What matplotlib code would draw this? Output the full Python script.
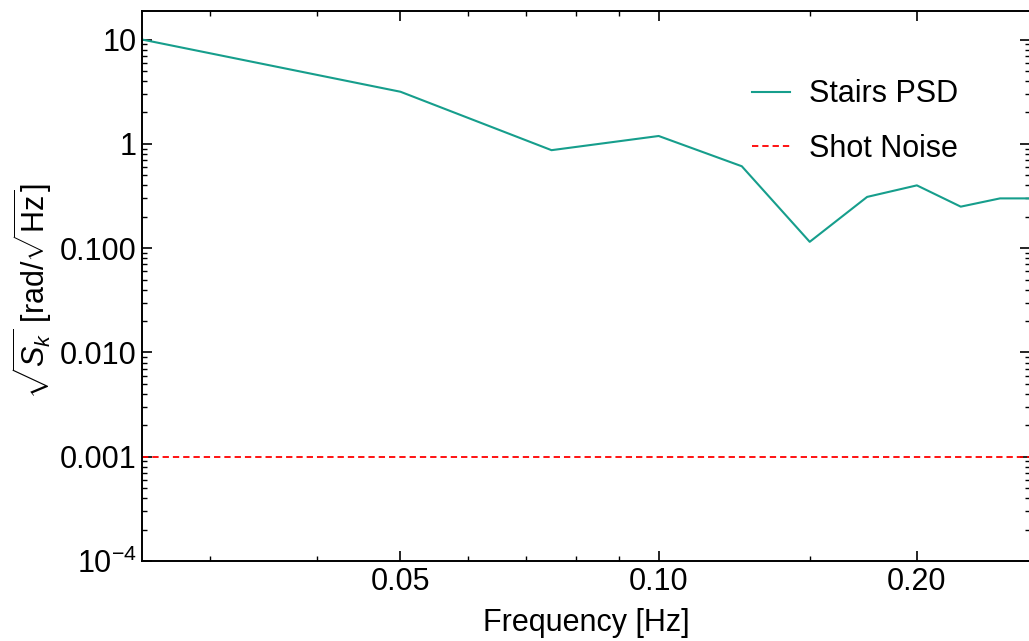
import numpy as np
import matplotlib.pyplot as plt
from matplotlib.ticker import FixedLocator, FixedFormatter, NullFormatter

plt.rcParams['font.family'] = ['Liberation Sans', 'DejaVu Sans']
plt.rcParams['mathtext.fontset'] = 'custom'
plt.rcParams['mathtext.rm'] = 'Liberation Sans'
plt.rcParams['mathtext.it'] = 'Liberation Sans:italic'
plt.rcParams['mathtext.sf'] = 'Liberation Sans'

# data
freq = [0.025, 0.05, 0.075, 0.10, 0.125, 0.15, 0.175, 0.20, 0.225, 0.25, 0.275]
psd = [10.0, 3.16, 0.87, 1.19, 0.61, 0.115, 0.31, 0.40, 0.25, 0.30, 0.30]
shot_noise = 1e-3

xticks = [0.05, 0.10, 0.20]
xtick_labels = ["0.05", "0.10", "0.20"]
xminor = [0.03, 0.04, 0.06, 0.07, 0.08, 0.09, 0.15]
yticks = [1e-4, 1e-3, 1e-2, 1e-1, 1, 10]
ytick_labels = ["$10^{-4}$", "0.001", "0.010", "0.100", "1", "10"]

fig = plt.figure(figsize=(10.29, 6.41), dpi=100)
ax = fig.add_axes([0.1383, 0.1248, 1.001 - 0.1383, 0.9836 - 0.1248])

ax.plot(freq, psd, color='#169e8c', lw=1.5, label='Stairs PSD')
ax.axhline(shot_noise, color='red', lw=1.3, ls=(0, (3.5, 2.2)), label='Shot Noise')

ax.set_xscale('log')
ax.set_yscale('log')
ax.set_xlim(0.025, 0.271)
ax.set_ylim(1e-4, 19)

ax.xaxis.set_major_locator(FixedLocator(xticks))
ax.xaxis.set_major_formatter(FixedFormatter(xtick_labels))
ax.xaxis.set_minor_locator(FixedLocator(xminor))
ax.xaxis.set_minor_formatter(NullFormatter())
ax.yaxis.set_major_locator(FixedLocator(yticks))
ax.yaxis.set_major_formatter(FixedFormatter(ytick_labels))

ax.tick_params(which='both', direction='in', top=True, right=True,
               labelsize=22, width=1.2, pad=4)
ax.tick_params(which='major', length=7)
ax.tick_params(which='minor', length=3.5, width=1.0)
for s in ax.spines.values():
    s.set_linewidth(1.4)

ax.set_xlabel('Frequency [Hz]', fontsize=22, labelpad=8)
ax.set_ylabel(r'$\sqrt{S_k}$ [rad/$\sqrt{\mathrm{Hz}}$]', fontsize=22)
ax.yaxis.set_label_coords(-0.1, 0.49)

ax.legend(loc='upper left', bbox_to_anchor=(0.731, 0.876),
          bbox_transform=fig.transFigure, frameon=False, fontsize=22,
          handlelength=1.25, handletextpad=0.6, labelspacing=0.8,
          borderpad=0, borderaxespad=0)

fig.savefig('out.png', dpi=100)
